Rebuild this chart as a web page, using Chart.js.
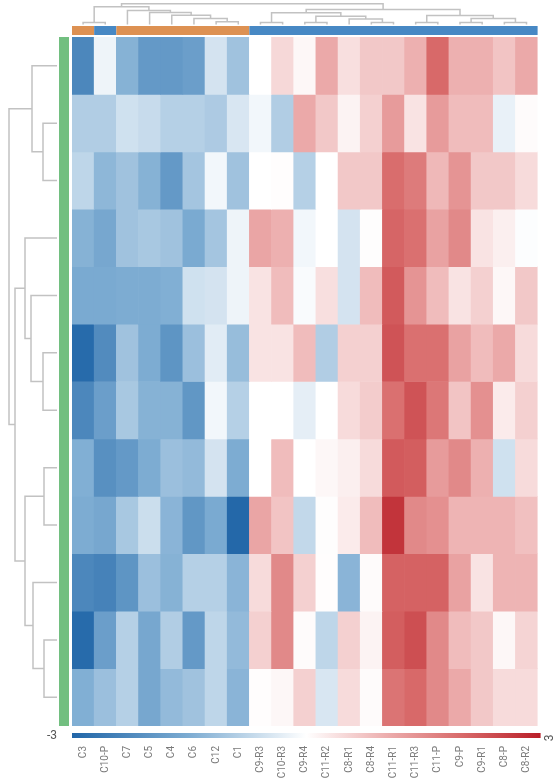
<!DOCTYPE html>
<html>
<head>
<meta charset="utf-8">
<script src="https://cdn.jsdelivr.net/npm/chart.js@4.4.0/dist/chart.umd.min.js"></script>
<style>
  html, body { margin: 0; padding: 0; background: #fff; }
</style>
</head>
<body>
<canvas id="heatmap" width="559" height="778"></canvas>
<script>
// column labels (samples) in dendrogram order
const samples = ['C3', 'C10-P', 'C7', 'C5', 'C4', 'C6', 'C12', 'C1', 'C9-R3', 'C10-R3', 'C9-R4',
    'C11-R2', 'C8-R1', 'C8-R4', 'C11-R1', 'C11-R3', 'C11-P', 'C9-P', 'C9-R1', 'C8-P', 'C8-R2'];
const sampleGroup = ['A', 'B', 'A', 'A', 'A', 'A', 'A', 'A', 'B', 'B', 'B',
    'B', 'B', 'B', 'B', 'B', 'B', 'B', 'B', 'B', 'B'];
const scaleLabels = ['-3', '3'];

// z-scores, one array per row (top to bottom)
const heatmapValues = [
    [-2.3, -0.2, -1.4, -1.9, -1.9, -1.8, -0.5, -1.1, 0, 0.5, 0.1, 1.1, 0.4, 0.7, 0.7, 1.0, 2.0, 1.0, 1.0, 0.75, 1.1],
    [-0.9, -0.9, -0.55, -0.65, -0.85, -0.85, -0.95, -0.45, -0.15, -0.9, 1.1, 0.7, 0.15, 0.6, 1.3, 0.35, 1.3, 0.85, 0.85, -0.25, 0.05],
    [-0.75, -1.3, -1.1, -1.4, -1.9, -1.05, -0.15, -1.1, 0, 0.02, -0.85, 0, 0.7, 0.7, 1.95, 1.75, 0.9, 1.4, 0.7, 0.7, 0.45],
    [-1.4, -1.6, -1.1, -1.0, -1.1, -1.55, -1.05, -0.2, 1.15, 1.0, -0.15, 0, -0.5, 0.03, 2.05, 1.9, 1.2, 1.55, 0.35, 0.2, -0.03],
    [-1.55, -1.55, -1.5, -1.5, -1.45, -0.55, -0.5, -0.2, 0.35, 0.85, -0.07, 0.4, -0.5, 0.85, 2.2, 1.4, 0.85, 0.35, 0.6, 0.1, 0.7],
    [-2.9, -2.2, -1.1, -1.5, -2.0, -1.15, -0.35, -1.2, 0.35, 0.35, 0.85, -0.9, 0.6, 0.6, 2.3, 1.9, 1.9, 1.2, 0.85, 1.1, 0.45],
    [-2.3, -1.8, -1.0, -1.4, -1.4, -1.95, -0.15, -0.85, 0, 0, -0.3, 0, 0.45, 0.65, 1.9, 2.3, 1.8, 0.75, 1.45, 0.25, 0.6],
    [-1.45, -2.1, -1.9, -1.5, -1.15, -1.25, -0.5, -1.5, 0, 0.85, 0, 0.1, 0.2, 0.45, 2.2, 2.15, 1.3, 1.55, 1.0, -0.55, 0.45],
    [-1.5, -1.6, -1.0, -0.6, -1.35, -1.95, -1.55, -2.95, 1.15, 0.75, -0.7, 0.03, 0.25, 0.85, 2.7, 1.55, 1.45, 0.95, 0.95, 0.95, 0.8],
    [-2.3, -2.4, -2.0, -1.15, -1.4, -0.85, -0.85, -1.35, 0.45, 1.55, 0.6, 0.02, -1.35, 0.05, 2.1, 2.1, 2.1, 1.2, 0.35, 0.95, 0.95],
    [-2.9, -1.8, -0.85, -1.6, -0.9, -1.9, -0.75, -1.25, 0.6, 1.55, 0.05, -0.75, 0.6, 0.15, 2.15, 2.35, 1.55, 0.85, 0.7, 0.1, 0.55],
    [-1.45, -1.15, -0.85, -1.6, -1.25, -1.1, -0.75, -1.35, 0.02, 0.1, 0.6, -0.45, 0.45, 0.05, 1.85, 2.0, 1.55, 1.1, 0.7, 0.45, 0.45]
];

// linkage like scipy: [childA, childB, distance]; ids >= n are earlier merges
const colLinkage = [
    [0, 1, 2], [6, 7, 2.7], [5, 22, 6], [4, 23, 9.3], [3, 24, 12], [2, 25, 14], [21, 26, 17.7],
    [8, 9, 2], [10, 11, 2], [13, 14, 2], [12, 30, 5.5], [29, 31, 8.3], [28, 32, 11.7],
    [15, 16, 2], [17, 18, 2], [19, 20, 2], [35, 36, 6], [34, 37, 9], [33, 38, 15],
    [27, 39, 20.7]
];
const rowLinkage = [
    [1, 2, 14], [0, 12, 25], [5, 6, 14], [4, 14, 26], [3, 15, 32],
    [7, 8, 13], [10, 11, 13], [9, 18, 24], [17, 19, 32], [16, 20, 42], [13, 21, 48]
];

const colourStops = [
    [-3, [33, 102, 168]], [-1.5, [125, 172, 210]], [0, [255, 255, 255]],
    [1, [237, 176, 176]], [2, [216, 105, 105]], [3, [185, 30, 40]]
];
const groupColours = { A: '#dd9152', B: '#4788c4' };

function valueColour(v) {
    v = Math.max(-3, Math.min(3, v));
    for (let i = 1; i < colourStops.length; i++) {
        const [v1, c1] = colourStops[i];
        const [v0, c0] = colourStops[i - 1];
        if (v <= v1) {
            const t = (v - v0) / (v1 - v0);
            const c = c0.map((c, k) => Math.round(c + (c1[k] - c) * t));
            return `rgb(${c[0]},${c[1]},${c[2]})`;
        }
    }
}

function drawDendrogram(ctx, linkage, n, leafPos, toXY) {
    const nodes = [];
    for (let i = 0; i < n; i++) nodes.push({ pos: leafPos(i), h: 0 });
    linkage.forEach(([a, b, h]) => {
        const A = nodes[a], B = nodes[b];
        const pts = [toXY(A.pos, A.h), toXY(A.pos, h), toXY(B.pos, h), toXY(B.pos, B.h)];
        ctx.beginPath();
        ctx.moveTo(pts[0][0], pts[0][1]);
        pts.slice(1).forEach(p => ctx.lineTo(p[0], p[1]));
        ctx.stroke();
        nodes.push({ pos: (A.pos + B.pos) / 2, h: h });
    });
}

const decorations = {
    id: 'decorations',
    afterDraw(chart) {
        const { ctx, chartArea, scales: { x, y } } = chart;
        const colW = (chartArea.right - chartArea.left) / samples.length;
        ctx.save();

        // top group bar
        let start = 0;
        for (let i = 1; i <= samples.length; i++) {
            if (i === samples.length || sampleGroup[i] !== sampleGroup[start]) {
                const x0 = x.getPixelForValue(start) - colW / 2;
                const x1 = x.getPixelForValue(i - 1) + colW / 2;
                ctx.fillStyle = groupColours[sampleGroup[start]];
                ctx.fillRect(x0, chartArea.top - 11, x1 - x0, 9);
                start = i;
            }
        }

        // left row bar
        ctx.fillStyle = '#72bf80';
        ctx.fillRect(chartArea.left - 13, chartArea.top, 10, chartArea.bottom - chartArea.top);

        // dendrograms
        ctx.strokeStyle = '#c2c2c2';
        ctx.lineWidth = 1.5;
        const topBase = chartArea.top - 12.5;
        drawDendrogram(ctx, colLinkage, samples.length,
            i => x.getPixelForValue(i),
            (p, h) => [p, topBase - h]);
        const leftBase = chartArea.left - 15;
        drawDendrogram(ctx, rowLinkage, heatmapValues.length,
            i => y.getPixelForValue(i + 0.5),
            (p, h) => [leftBase - h, p]);

        // colour scale bar
        const cbY = chartArea.bottom + 7;
        const cbX0 = chartArea.left, cbX1 = chartArea.right + 3;
        const grad = ctx.createLinearGradient(cbX0, 0, cbX1, 0);
        colourStops.forEach(([v]) => grad.addColorStop((v + 3) / 6, valueColour(v)));
        ctx.fillStyle = grad;
        ctx.fillRect(cbX0, cbY, cbX1 - cbX0, 5);

        ctx.fillStyle = '#555';
        ctx.font = '12px Roboto';
        ctx.textBaseline = 'middle';
        ctx.textAlign = 'center';
        ctx.fillText(scaleLabels[0], chartArea.left - 20, cbY + 3);
        ctx.translate(cbX1 + 9, cbY + 5);
        ctx.rotate(-Math.PI / 2);
        ctx.fillText(scaleLabels[1], 0, 0);
        ctx.restore();
    }
};

const datasets = heatmapValues.map((vals, r) => ({
    label: 'row ' + (r + 1),
    data: vals.map(() => [r, r + 1]),
    backgroundColor: vals.map(valueColour),
    borderWidth: 0,
    grouped: false,
    barPercentage: 1,
    categoryPercentage: 1
}));

new Chart(document.getElementById('heatmap'), {
    type: 'bar',
    data: { labels: samples, datasets: datasets },
    options: {
        responsive: false,
        animation: false,
        layout: { padding: { left: 72, right: 20, top: 37, bottom: 0 } },
        plugins: { legend: { display: false }, tooltip: { enabled: false } },
        scales: {
            x: {
                grid: { display: false, drawTicks: false },
                border: { display: false },
                ticks: {
                    autoSkip: false, minRotation: 90, maxRotation: 90, padding: 20,
                    color: '#7a7a7a', font: { family: 'Roboto', size: 10 }
                },
                afterFit: s => { s.height = 52; }
            },
            y: { display: false, min: 0, max: 12, reverse: true }
        }
    },
    plugins: [decorations]
});
</script>
</body>
</html>
